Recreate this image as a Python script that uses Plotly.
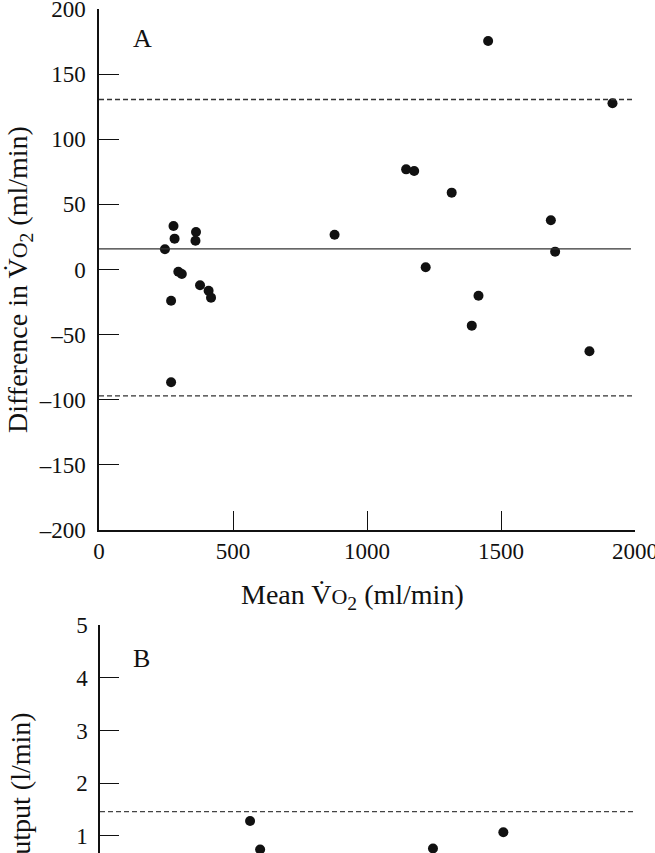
import plotly.graph_objects as go

W, H = 655, 853

# ---- Panel A data: mean VO2 (ml/min) vs difference in VO2 (ml/min)
a_mean = [246, 278, 282, 362, 360, 296, 309, 377, 409, 418, 269, 269,
          879, 1146, 1176, 1316, 1219, 1452, 1391, 1416, 1686, 1702, 1830, 1916]
a_diff = [15.5, 33.4, 23.7, 28.8, 22.1, -1.7, -3.5, -12.1, -16.3, -21.6, -24, -86.6,
          26.7, 76.9, 75.6, 59, 1.7, 175.4, -43.1, -20.1, 37.8, 13.7, -62.8, 127.6]
a_bias = 15.8
a_upper = 130.5
a_lower = -97
a_xrange = [0, 2000]
a_yticks = [-200, -150, -100, -50, 0, 50, 100, 150, 200]
a_yticktext = ["–200", "–150", "–100", "–50", "0", "50", "100", "150", "200"]
a_xticks = [0, 500, 1000, 1500, 2000]

# ---- Panel B data (partly visible): mean cardiac output vs difference (l/min)
b_mean = [2.24, 2.39, 4.97, 6.02]
b_diff = [1.285, 0.744, 0.763, 1.07]
b_upper = 1.46
b_xrange = [0, 8]
b_yticks = [1, 2, 3, 4, 5]

FONT = "Liberation Serif"
BLACK = "#111111"

def px_x(p):
    return p / W

def px_y(p):
    return 1 - p / H

fig = go.Figure()

fig.add_trace(go.Scatter(x=a_mean, y=a_diff, mode="markers",
                         marker=dict(color=BLACK, size=10),
                         xaxis="x", yaxis="y", showlegend=False, hoverinfo="skip"))
fig.add_trace(go.Scatter(x=b_mean, y=b_diff, mode="markers",
                         marker=dict(color=BLACK, size=10),
                         xaxis="x2", yaxis="y2", showlegend=False, hoverinfo="skip"))

shapes = [
    dict(type="line", xref="x", yref="y", x0=a_xrange[0], x1=1985, y0=a_bias, y1=a_bias,
         line=dict(color="#333333", width=1.3)),
    dict(type="line", xref="x", yref="y", x0=a_xrange[0], x1=a_xrange[1], y0=a_upper, y1=a_upper,
         line=dict(color="#333333", width=1.3, dash="5px,3px")),
    dict(type="line", xref="x", yref="y", x0=a_xrange[0], x1=a_xrange[1], y0=a_lower, y1=a_lower,
         line=dict(color="#333333", width=1.3, dash="5px,3px")),
    dict(type="line", xref="x2", yref="y2", x0=b_xrange[0], x1=b_xrange[1], y0=b_upper, y1=b_upper,
         line=dict(color="#444444", width=1.3, dash="5px,3px")),
]

axis_common = dict(showgrid=False, zeroline=False, showline=True, linecolor=BLACK,
                   linewidth=1.5, ticks="inside", tickcolor=BLACK, tickwidth=1.3,
                   automargin=False, ticklabeloverflow="allow",
                   tickfont=dict(family=FONT, size=23, color=BLACK))

vo2 = "V\u0307<span style='font-size:22px'>O</span><sub>2</sub>"

fig.update_layout(
    template="none",
    width=W, height=H,
    margin=dict(l=0, r=0, t=0, b=0, pad=0),
    paper_bgcolor="white", plot_bgcolor="white",
    font=dict(family=FONT, size=23, color=BLACK),
    xaxis=dict(axis_common, domain=[px_x(99), px_x(635)], range=a_xrange,
               tickvals=a_xticks, ticklen=19, anchor="y"),
    yaxis=dict(axis_common, domain=[px_y(530), px_y(9)], range=[-200, 200],
               tickvals=a_yticks, ticktext=a_yticktext, ticklen=20, anchor="x",
               ticklabelstandoff=7),
    xaxis2=dict(axis_common, domain=[px_x(100), px_x(636)], range=b_xrange,
                visible=False, anchor="y2"),
    yaxis2=dict(axis_common, domain=[0, px_y(625)], range=[0.677, 5],
                tickvals=b_yticks, ticklen=19, anchor="x2", ticklabelstandoff=6),
    shapes=shapes,
    annotations=[
        dict(text="A", x=px_x(142), y=px_y(38), xref="paper", yref="paper",
             xanchor="center", yanchor="middle", showarrow=False, font=dict(size=26)),
        dict(text="B", x=px_x(141.5), y=px_y(658), xref="paper", yref="paper",
             xanchor="center", yanchor="middle", showarrow=False, font=dict(size=26)),
        dict(text="Mean " + vo2 + " (ml/min)", x=px_x(352), y=px_y(596),
             xref="paper", yref="paper", xanchor="center", yanchor="middle",
             showarrow=False, font=dict(size=28)),
        dict(text="Difference in " + vo2 + " (ml/min)", x=px_x(20), y=px_y(280),
             xref="paper", yref="paper", xanchor="center", yanchor="middle",
             showarrow=False, textangle=-90, font=dict(size=28)),
        dict(text="Difference in cardiac output (l/min)", x=px_x(20), y=px_y(711),
             xref="paper", yref="paper", xanchor="center", yanchor="top",
             showarrow=False, textangle=-90, font=dict(size=28)),
    ],
)

fig.write_html("out.html", config={"displayModeBar": False},
               post_script="document.body.style.margin='0px';")
